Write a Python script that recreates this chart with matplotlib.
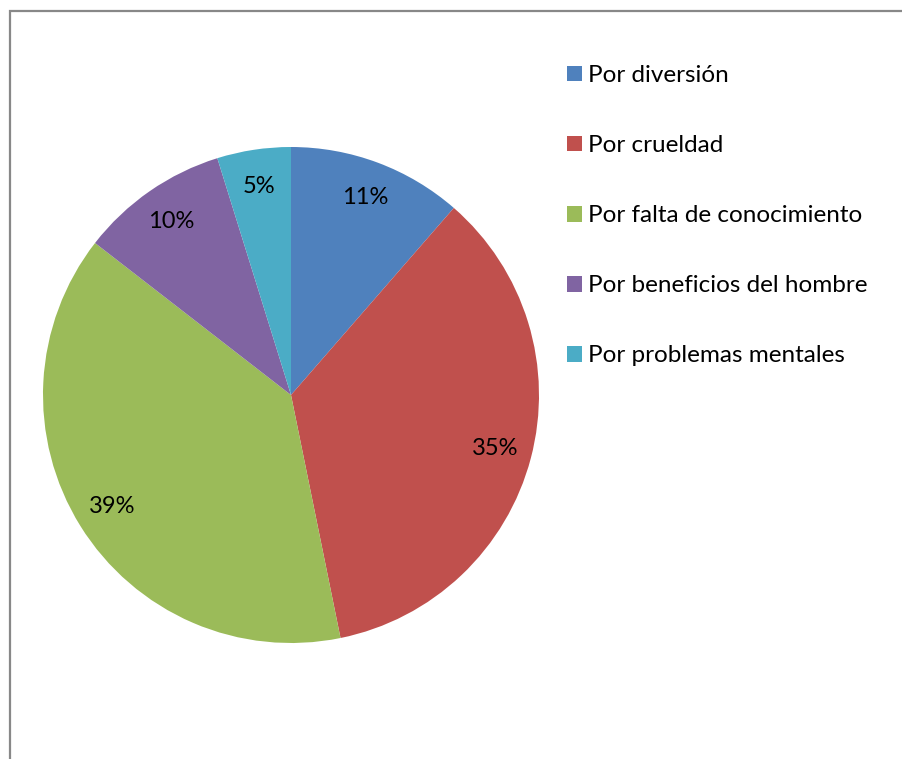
import matplotlib
matplotlib.use("Agg")
import matplotlib.pyplot as plt
from matplotlib.patches import Rectangle, Patch

categories = ["Por diversión", "Por crueldad", "Por falta de conocimiento",
              "Por beneficios del hombre", "Por problemas mentales"]
values = [11.4, 35.4, 38.7, 9.7, 4.8]
colors = ["#4F81BD", "#C0504D", "#9BBB59", "#8064A2", "#4BACC6"]

plt.rcParams['font.family'] = ['Lato', 'DejaVu Sans']

W, H = 902, 759
fig = plt.figure(figsize=(W / 100, H / 100), dpi=100)

# outer border (extends past right/bottom edges)
fig.patches.append(Rectangle((9.5 / W, -0.1), 1.2, (H - 11) / H + 0.1,
                             transform=fig.transFigure, fill=False,
                             edgecolor="#888888", linewidth=1.6))

cx, cy, r = 291, 395, 248
ax = fig.add_axes([(cx - r) / W, (H - cy - r) / H, 2 * r / W, 2 * r / H])
wedges, texts, autotexts = ax.pie(
    values, colors=colors, startangle=90, counterclock=False,
    autopct=lambda p: f"{p:.0f}%", pctdistance=0.85,
    textprops=dict(fontsize=17, color="black"),
    wedgeprops=dict(linewidth=0))
ax.set_xlim(-1, 1)
ax.set_ylim(-1, 1)
ax.set_aspect("equal")
ax.axis("off")

handles = [Patch(facecolor=c, edgecolor="none") for c in colors]
fig.legend(handles, categories, loc="upper left",
           bbox_to_anchor=(567 / W, 1 - 65 / H), frameon=False,
           fontsize=17.5, handlelength=0.62, handleheight=0.62,
           handletextpad=0.25, labelspacing=2.02, borderaxespad=0,
           borderpad=0)

fig.savefig("out.png", dpi=100)
